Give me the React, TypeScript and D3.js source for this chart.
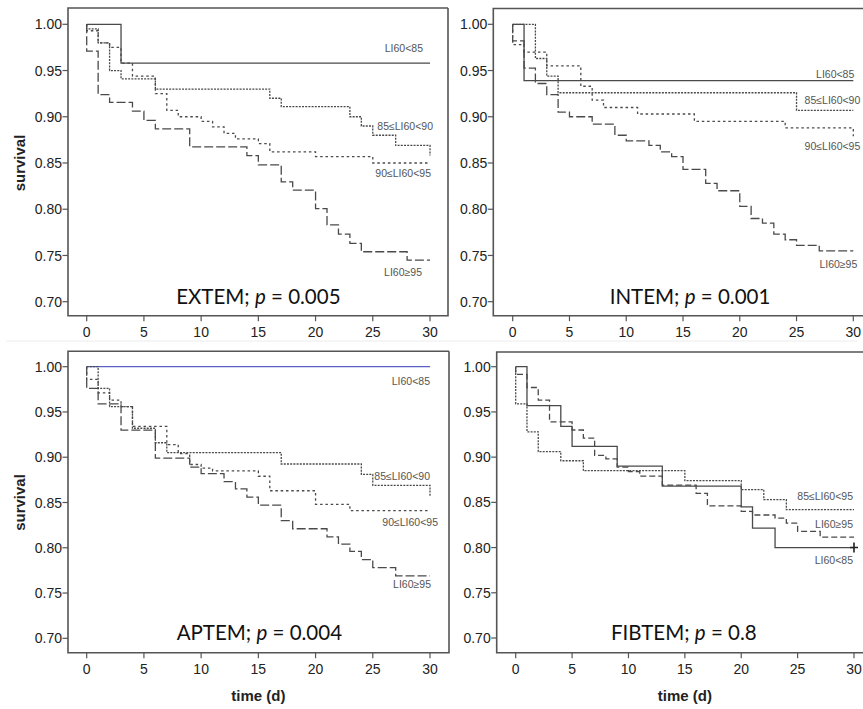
import React from 'react';
import * as d3 from 'd3';

// ---------- data ----------
const xTicks = [0, 5, 10, 15, 20, 25, 30];
const yTicks = [0.7, 0.75, 0.8, 0.85, 0.9, 0.95, 1.0];
const yTickLabels = ['0.70', '0.75', '0.80', '0.85', '0.90', '0.95', '1.00'];
const panelNames = ['EXTEM', 'INTEM', 'APTEM', 'FIBTEM'];
const pValues = ['0.005', '0.001', '0.004', '0.8'];

// step events [day, survival]
const extemLi85 = [[3, 0.958]];
const extem85to90 = [[0, 0.995], [1, 0.98], [2, 0.95], [3, 0.941], [6, 0.93], [16, 0.92], [17, 0.911], [23, 0.9], [24, 0.89], [25, 0.88], [27, 0.869], [30, 0.858]];
const extem90to95 = [[0, 0.993], [1, 0.98], [2, 0.975], [3, 0.958], [4, 0.944], [6, 0.925], [7, 0.907], [8, 0.9], [10, 0.895], [11, 0.889], [12, 0.882], [13, 0.876], [15, 0.871], [16, 0.862], [20, 0.857], [25, 0.85]];
const extemLi95 = [[0, 0.971], [1, 0.924], [2, 0.9155], [4, 0.906], [5, 0.896], [6, 0.887], [9, 0.8675], [14, 0.858], [15, 0.848], [17, 0.8296], [18, 0.8206], [20, 0.8007], [21, 0.783], [22, 0.773], [23, 0.763], [24, 0.754], [28, 0.745]];

const intemLi85 = [[1, 0.939]];
const intem85to90 = [[2, 0.963], [3, 0.944], [4, 0.926], [25, 0.907]];
const intem90to95 = [[0, 0.978], [1, 0.97], [3, 0.955], [6, 0.933], [7, 0.918], [8, 0.91], [11, 0.903], [16, 0.895], [24, 0.888], [30, 0.879]];
const intemLi95 = [[0, 0.982], [1, 0.9525], [2, 0.936], [3, 0.924], [4, 0.905], [5, 0.9], [7, 0.892], [9, 0.88], [10, 0.874], [12, 0.869], [13, 0.862], [14, 0.857], [15, 0.843], [17, 0.828], [18, 0.82], [20, 0.803], [21, 0.79], [22, 0.785], [23, 0.773], [24, 0.767], [25, 0.761], [27, 0.755]];

const aptemLi85: number[][] = [];
const aptem85to90 = [[1, 0.976], [2, 0.956], [4, 0.932], [6, 0.916], [7, 0.905], [17, 0.8925], [24, 0.881], [25, 0.869], [30, 0.856]];
const aptem90to95 = [[0, 0.986], [1, 0.971], [2, 0.963], [3, 0.956], [4, 0.934], [7, 0.914], [8, 0.904], [9, 0.892], [10, 0.888], [11, 0.885], [15, 0.879], [16, 0.863], [20, 0.848], [23, 0.841]];
const aptemLi95 = [[0, 0.976], [1, 0.959], [3, 0.93], [6, 0.899], [9, 0.889], [10, 0.882], [12, 0.873], [13, 0.865], [14, 0.856], [15, 0.847], [17, 0.83], [18, 0.821], [21, 0.812], [22, 0.804], [23, 0.796], [24, 0.787], [25, 0.778], [27, 0.769]];

const fibtemLi85 = [[1, 0.957], [4, 0.934], [5, 0.912], [9, 0.89], [13, 0.868], [20, 0.845], [21, 0.8215], [23, 0.8]];
const fibtem85to95 = [[0, 0.959], [1, 0.928], [2, 0.906], [4, 0.896], [6, 0.885], [15, 0.874], [20, 0.864], [22, 0.853], [24, 0.842]];
const fibtemLi95 = [[0, 0.9915], [1, 0.977], [2, 0.963], [3, 0.939], [5, 0.93], [6, 0.921], [7, 0.902], [8, 0.898], [9, 0.889], [10, 0.884], [11, 0.879], [13, 0.869], [16, 0.86], [17, 0.846], [20, 0.84], [21, 0.836], [23, 0.8325], [24, 0.827], [25, 0.818], [27, 0.8115]];

// group labels and their anchor survival value near day 30
const extemLabels = ['LI60<85', '85\u2264LI60<90', '90\u2264LI60<95', 'LI60\u226595'];
const extemLabelAt = [0.974, 0.89, 0.839, 0.732];
const intemLabels = ['LI60<85', '85\u2264LI60<90', '90\u2264LI60<95', 'LI60\u226595'];
const intemLabelAt = [0.946, 0.918, 0.868, 0.741];
const aptemLabels = ['LI60<85', '85\u2264LI60<90', '90\u2264LI60<95', 'LI60\u226595'];
const aptemLabelAt = [0.9845, 0.8785, 0.8285, 0.76];
const fibtemLabels = ['LI60<85', '85\u2264LI60<95', 'LI60\u226595'];
const fibtemLabelAt = [0.786, 0.8566, 0.8257];

// ---------- layout & style ----------
type Style = { dash: string; color: string; width: number };
const SOLID: Style = { dash: 'none', color: '#4a4a4a', width: 1.3 };
const DENSE: Style = { dash: '2,1.2', color: '#4a4a4a', width: 1.3 };
const SPARSE: Style = { dash: '2.5,2.8', color: '#4a4a4a', width: 1.3 };
const LONG: Style = { dash: '9,3', color: '#4a4a4a', width: 1.3 };
const MED: Style = { dash: '6,3', color: '#4a4a4a', width: 1.3 };
const BLUE: Style = { dash: 'none', color: '#5a62c8', width: 1.3 };

const panelsCfg = [
  {
    frame: [68, 8, 448, 315.7], xr: [86.7, 430], yr: [301.7, 24.3], titleDx: 0, survival: true, time: false,
    series: [extemLi85, extem85to90, extem90to95, extemLi95], styles: [SOLID, DENSE, SPARSE, LONG],
    labels: extemLabels, labelAt: extemLabelAt, labelDx: [-7, 3, 1, -8], censor: false,
  },
  {
    frame: [493.3, 8.5, 880, 315.7], xr: [512.7, 853.3], yr: [301.7, 24.3], titleDx: 7, survival: false, time: false,
    series: [intemLi85, intem85to90, intem90to95, intemLi95], styles: [SOLID, DENSE, SPARSE, LONG],
    labels: intemLabels, labelAt: intemLabelAt, labelDx: [1, 7, 7, 4], censor: false,
  },
  {
    frame: [68, 351.3, 449, 652.7], xr: [86.7, 430], yr: [638.3, 366.7], titleDx: 1, survival: true, time: true,
    series: [aptemLi85, aptem85to90, aptem90to95, aptemLi95], styles: [BLUE, DENSE, SPARSE, LONG],
    labels: aptemLabels, labelAt: aptemLabelAt, labelDx: [0, 0, 8, 1], censor: false,
  },
  {
    frame: [496.7, 352, 880, 652.7], xr: [515.7, 854], yr: [638, 366.7], titleDx: -1, survival: false, time: true,
    series: [fibtemLi85, fibtem85to95, fibtemLi95], styles: [SOLID, DENSE, MED],
    labels: fibtemLabels, labelAt: fibtemLabelAt, labelDx: [-1, -1, -1], censor: true,
  },
];

const AX = '#555';
const TXT = '#222';
const SANS = '"Liberation Sans", Arial, sans-serif';

function Panel({ cfg, idx }: { cfg: any; idx: number }) {
  const x = d3.scaleLinear().domain([0, 30]).range(cfg.xr);
  const y = d3.scaleLinear().domain([0.7, 1.0]).range(cfg.yr);
  const [fl, ft, fr, fb] = cfg.frame;
  const line = d3.line<number[]>().x((d) => x(d[0])).y((d) => y(d[1])).curve(d3.curveStepAfter);
  return (
    <g>
      <path d={`M${fr},${ft}H${fl}V${fb}H${fr}${fr < 870 ? `V${ft}` : ''}`} fill="none" stroke={AX} strokeWidth={1.6} />
      {yTicks.map((t, i) => (
        <g key={'y' + i}>
          <line x1={fl - 5.5} x2={fl} y1={y(t)} y2={y(t)} stroke={AX} strokeWidth={1.2} />
          <text x={fl - 6} y={y(t)} dy="0.36em" textAnchor="end" fontFamily={SANS} fontSize={14} fill={TXT}>{yTickLabels[i]}</text>
        </g>
      ))}
      {xTicks.map((t, i) => (
        <g key={'x' + i}>
          <line x1={x(t)} x2={x(t)} y1={fb} y2={fb + 5.5} stroke={AX} strokeWidth={1.2} />
          <text x={x(t)} y={fb + 21} textAnchor="middle" fontFamily={SANS} fontSize={14} fill={TXT}>{t}</text>
        </g>
      ))}
      {cfg.series.map((s: number[][], i: number) => {
        const last = s.length ? s[s.length - 1][1] : 1;
        const pts = [[0, 1], ...s, [30, last]];
        const st: Style = cfg.styles[i];
        return <path key={'s' + i} d={line(pts) || ''} fill="none" stroke={st.color} strokeWidth={st.width} strokeDasharray={st.dash} />;
      })}
      {cfg.censor && (() => {
        const s = cfg.series[0];
        const cx = x(30), cy = y(s[s.length - 1][1]);
        return <path d={`M${cx - 4},${cy}H${cx + 4}M${cx},${cy - 5}V${cy + 5}`} stroke="#222" strokeWidth={1.6} />;
      })()}
      {cfg.labels.map((l: string, i: number) => (
        <text key={'l' + i} x={x(30) + cfg.labelDx[i]} y={y(cfg.labelAt[i])} dy="0.36em" textAnchor="end" fontFamily={SANS} fontSize={10.5} fill="#555">{l}</text>
      ))}
      <text x={x(15) + cfg.titleDx} y={y(0.7) + 2} textAnchor="middle" fontFamily="Lato, 'Open Sans', sans-serif" fontSize={20.5} fill="#111">
        {panelNames[idx]}; <tspan fontStyle="italic">p</tspan> = {pValues[idx]}
      </text>
      {cfg.survival && (
        <text transform={`translate(25,${(y(0.85) + y(0.85)) / 2}) rotate(-90)`} textAnchor="middle" fontFamily={SANS} fontWeight="bold" fontSize={15} fill={TXT}>survival</text>
      )}
      {cfg.time && (
        <text x={x(15)} y={fb + 48} textAnchor="middle" fontFamily={SANS} fontWeight="bold" fontSize={15} fill={TXT}>time (d)</text>
      )}
    </g>
  );
}

export default function App() {
  return (
    <svg width={863} height={709} style={{ position: 'absolute', left: 0, top: 0, background: '#fff' }}>
      <rect x={0} y={0} width={863} height={709} fill="#fff" />
      <line x1={6} x2={857} y1={341} y2={341} stroke="#ececec" strokeWidth={1} />
      {panelsCfg.map((c, i) => (
        <Panel key={i} cfg={c} idx={i} />
      ))}
    </svg>
  );
}
